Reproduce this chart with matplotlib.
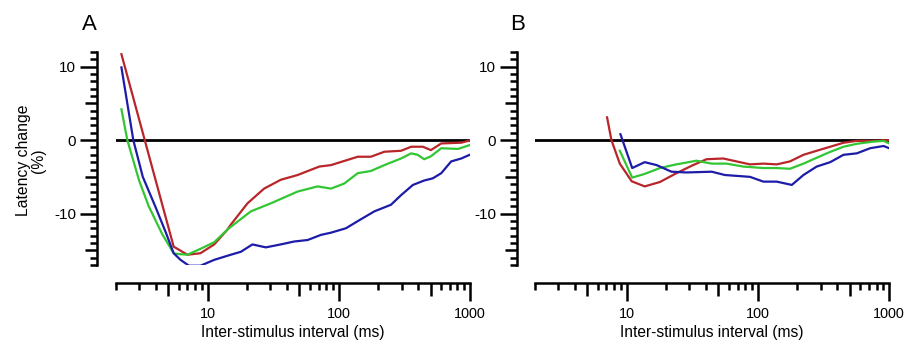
import matplotlib
matplotlib.use("Agg")
import matplotlib.pyplot as plt
from matplotlib.ticker import FixedLocator, NullFormatter

plt.rcParams['font.family'] = ['Liberation Sans', 'DejaVu Sans']

RED = '#b8262a'
GREEN = '#33c633'
BLUE = '#1c1ca8'

# panel A
a_red_x = [2.2, 5.5, 7.0, 8.8, 11.2, 14.1, 15.0, 20.1, 26.9, 36, 48.4, 70.8, 86.9, 139, 175, 222, 297, 355, 436, 502, 602, 855, 990]
a_red_y = [11.7, -14.5, -15.6, -15.4, -14.2, -12.2, -11.5, -8.6, -6.6, -5.4, -4.75, -3.6, -3.4, -2.26, -2.26, -1.58, -1.45, -0.9, -0.9, -1.36, -0.45, -0.35, -0.05]

a_green_x = [2.2, 2.44, 3.0, 3.55, 4.5, 5.5, 5.9, 7.0, 8.8, 11.2, 14.1, 15.0, 21.3, 30.3, 48.4, 68.7, 86.9, 110, 139, 175, 222, 297, 355, 398, 446, 502, 602, 806, 990]
a_green_y = [4.2, 0.0, -5.5, -9.0, -12.8, -15.4, -15.5, -15.6, -14.8, -13.9, -12.2, -11.8, -9.7, -8.6, -7.0, -6.3, -6.6, -5.9, -4.5, -4.2, -3.4, -2.5, -1.8, -2.0, -2.6, -2.2, -1.1, -1.2, -0.68]

a_blue_x = [2.2, 2.71, 3.2, 4.0, 4.8, 5.5, 6.2, 7.2, 8.8, 11.2, 15.0, 17.9, 21.9, 27.7, 36, 45.6, 57.7, 72.9, 86.9, 113, 143, 186, 249, 297, 366, 446, 519, 602, 716, 855, 990]
a_blue_y = [9.9, 0.0, -5.0, -9.1, -12.6, -15.4, -16.3, -17.1, -17.1, -16.3, -15.6, -15.2, -14.2, -14.6, -14.2, -13.8, -13.6, -12.9, -12.6, -12.0, -10.9, -9.7, -8.8, -7.5, -6.1, -5.5, -5.2, -4.5, -2.9, -2.5, -2.0]

# panel B
b_red_x = [7.08, 7.64, 8.85, 10.9, 13.7, 17.9, 23.9, 32, 40.5, 54.3, 68.7, 86.9, 110, 139, 175, 222, 280, 355, 448, 566, 758, 1000]
b_red_y = [3.1, 0.0, -3.2, -5.6, -6.3, -5.7, -4.5, -3.4, -2.6, -2.5, -2.9, -3.3, -3.2, -3.3, -2.9, -2.0, -1.45, -0.9, -0.36, -0.1, -0.1, 0.0]

b_green_x = [8.85, 11.0, 13.7, 17.9, 23.9, 34, 44.4, 57.7, 77.3, 110, 139, 175, 222, 280, 355, 448, 566, 758, 906, 1000]
b_green_y = [-1.45, -5.1, -4.6, -3.8, -3.3, -2.8, -3.2, -3.2, -3.6, -3.8, -3.8, -3.9, -3.2, -2.4, -1.6, -0.9, -0.5, -0.2, -0.1, -0.45]

b_blue_x = [8.95, 11.0, 13.7, 16.9, 21.9, 28.6, 44.4, 56, 86.9, 110, 139, 181, 222, 280, 355, 448, 566, 716, 906, 1000]
b_blue_y = [0.8, -3.8, -3.0, -3.4, -4.3, -4.4, -4.3, -4.75, -5.0, -5.65, -5.65, -6.1, -4.75, -3.6, -3.0, -2.0, -1.8, -1.1, -0.8, -1.1]

panels = [
    ('A', [(a_red_x, a_red_y, RED), (a_green_x, a_green_y, GREEN), (a_blue_x, a_blue_y, BLUE)], 0.1279, 13.7, -0.095),
    ('B', [(b_red_x, b_red_y, RED), (b_green_x, b_green_y, GREEN), (b_blue_x, b_blue_y, BLUE)], 0.5899, 13.0, -0.07),
]

fig = plt.figure(figsize=(9.07, 3.45), dpi=100)

mid_x = [5, 50, 500]
minor_x = [v * 10 ** d for d in range(0, 3) for v in range(2, 10)]
minor_x = [v for v in minor_x if v not in mid_x]

for name, series, left, yoff, letter_x in panels:
    ax = fig.add_axes([left, 0.2319, 0.3905, 0.6174])
    ax.set_xscale('log')
    ax.set_xlim(2, 1000)
    ax.set_ylim(-17, 12)
    ax.axhline(0, color='black', lw=2.0, zorder=1)
    for xs, ys, c in series:
        ax.plot(xs, ys, color=c, lw=1.6, zorder=2)

    for s in ('top', 'right'):
        ax.spines[s].set_visible(False)
    ax.spines['left'].set_position(('outward', yoff))
    ax.spines['bottom'].set_position(('outward', 13.0))
    ax.spines['left'].set_bounds(-17, 12)
    ax.spines['bottom'].set_bounds(2, 1000)
    for s in ('left', 'bottom'):
        ax.spines[s].set_linewidth(1.8)

    # x ticks: decades long, 5s medium, rest short
    ax.xaxis.set_major_locator(FixedLocator([10, 100, 1000]))
    ax.set_xticklabels(['10', '100', '1000'])
    ax.xaxis.set_minor_locator(FixedLocator(minor_x))
    ax.xaxis.set_minor_formatter(NullFormatter())
    ax.tick_params(axis='x', which='major', length=13, width=1.8, labelsize=10.4, pad=4)
    ax.tick_params(axis='x', which='minor', length=5, width=1.8)
    sec = ax.secondary_xaxis(location=0)
    sec.spines['bottom'].set_visible(False)
    sec.spines['bottom'].set_position(('outward', 13.0))
    sec.set_xticks(mid_x)
    sec.set_xticklabels([])
    sec.tick_params(axis='x', length=9, width=1.8)

    # y ticks: tens long, fives medium, ones short
    ax.yaxis.set_major_locator(FixedLocator([-10, 0, 10]))
    ax.set_yticklabels(['-10', '0', '10'])
    ax.yaxis.set_minor_locator(FixedLocator([v for v in range(-17, 13) if v % 5 != 0]))
    ax.tick_params(axis='y', which='major', length=12, width=1.8, labelsize=11, pad=3)
    ax.tick_params(axis='y', which='minor', length=5, width=1.8)
    secy = ax.secondary_yaxis(location=0)
    secy.spines['left'].set_visible(False)
    secy.spines['left'].set_position(('outward', yoff))
    secy.set_yticks([-15, -5, 5])
    secy.set_yticklabels([])
    secy.tick_params(axis='y', length=8.5, width=1.8)

    ax.set_xlabel('Inter-stimulus interval (ms)', fontsize=11.2, labelpad=3)
    ax.text(letter_x, 1.13, name, transform=ax.transAxes,
            fontsize=16, ha='left', va='center')

fig.text(0.034, 0.535, 'Latency change\n(%)', rotation=90, ha='center', va='center',
         fontsize=11.3, linespacing=1.0)

fig.savefig('out.png', dpi=100)
